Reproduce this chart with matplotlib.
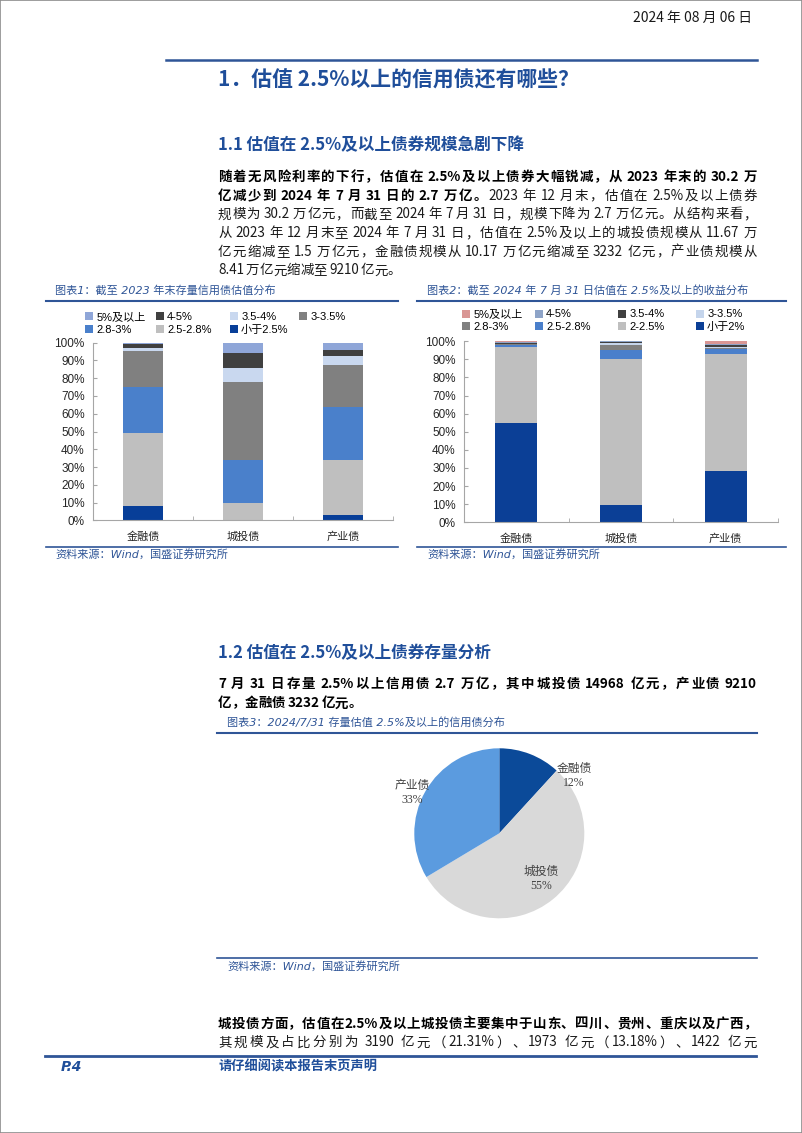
import matplotlib
matplotlib.use('Agg')
import numpy as np
import matplotlib.pyplot as plt
from matplotlib.lines import Line2D
from matplotlib.patches import Rectangle

CJK = 'Noto Sans CJK SC'
plt.rcParams['font.family'] = [CJK, 'DejaVu Sans']

# ---- data ----
categories = ['金融债', '城投债', '产业债']

buckets_2023 = ['小于2.5%', '2.5-2.8%', '2.8-3%', '3-3.5%', '3.5-4%', '4-5%', '5%及以上']
fin_2023 = [8.1, 41.0, 26.0, 20.2, 1.7, 2.1, 0.9]
cit_2023 = [0.0, 9.6, 24.2, 43.9, 8.2, 8.5, 5.6]
ind_2023 = [2.8, 31.0, 30.0, 23.6, 4.9, 3.6, 4.1]

buckets_2024 = ['小于2%', '2-2.5%', '2.5-2.8%', '2.8-3%', '3-3.5%', '3.5-4%', '4-5%', '5%及以上']
fin_2024 = [54.7, 42.4, 1.1, 0.2, 0.3, 0.1, 1.0, 0.2]
cit_2024 = [9.4, 80.7, 5.1, 2.8, 1.1, 0.6, 0.2, 0.1]
ind_2024 = [28.2, 64.6, 3.1, 0.3, 0.9, 0.9, 0.5, 1.5]

pie_labels = ['金融债', '城投债', '产业债']
pie_values = [3232, 14968, 9210]  # 亿元
pie_pct_text = ['12%', '55%', '33%']

colors_2023 = ['#073E98', '#BFBFBF', '#4A80CB', '#808080', '#C9D8EF', '#404040', '#8FA6D8']
colors_2024 = ['#0B3F96', '#BFBFBF', '#4A7FCB', '#808080', '#C5D5EC', '#404040', '#8EA4C8', '#D99694']
pie_colors = ['#0B4A99', '#D9D9D9', '#5B9BDF']

BLUE = '#1F4E9A'
LINE = '#2F5597'
TXT = '#1A1A1A'

W, H = 802, 1133
fig = plt.figure(figsize=(W / 100, H / 100), dpi=100)
renderer = fig.canvas.get_renderer()


def fx(x):
    return x / W


def fy(y):
    return 1 - y / H


def hline(x0, x1, y, lw=1.5, color=LINE):
    fig.add_artist(Line2D([fx(x0), fx(x1)], [fy(y), fy(y)], color=color, lw=lw))


def draw_line(segments, x0, y, size, width=None):
    # segments: (text, bold); CJK chars and ascii runs become tokens, spread to width
    items = []
    for text, bold in segments:
        buf = ''
        for ch in text:
            if ch == ' ':
                if buf:
                    items.append((buf, bold))
                    buf = ''
                items.append((' ', bold))
            elif ord(ch) < 128:
                buf += ch
            else:
                if buf:
                    items.append((buf, bold))
                    buf = ''
                items.append((ch, bold))
        if buf:
            items.append((buf, bold))
    base = y + 0.36 * size * 100 / 72
    arts, widths = [], []
    for tok, bold in items:
        if tok == ' ':
            arts.append(None)
            widths.append(0.15 * size * 100 / 72)
            continue
        t = fig.text(0, fy(base), tok, fontsize=size, va='baseline', ha='left',
                     fontweight='bold' if bold else 'normal',
                     color='black' if bold else TXT)
        arts.append(t)
        widths.append(t.get_window_extent(renderer).width)
    gap = 0.0
    if width is not None and len(items) > 1:
        gap = max((width - sum(widths)) / (len(items) - 1), 0)
    x = x0
    for a, w in zip(arts, widths):
        if a is not None:
            a.set_x(fx(x))
        x += w + gap


# ---- page frame, header ----
fig.add_artist(Rectangle((0, 0), 1, 1, transform=fig.transFigure, fill=False,
                         edgecolor='#8C8C8C', lw=1.2))
fig.text(fx(752), fy(18), '2024 年 08 月 06 日', fontsize=10, ha='right', va='center', color=TXT)
hline(166, 757, 59.5, lw=1.8)

fig.text(fx(218), fy(80), '1．估值 2.5%以上的信用债还有哪些？', fontsize=15, fontweight='bold',
         color=BLUE, va='center')
fig.text(fx(218), fy(145), '1.1 估值在 2.5%及以上债券规模急剧下降', fontsize=12, fontweight='bold',
         color=BLUE, va='center')

para1 = [
    [('随着无风险利率的下行，估值在 2.5%及以上债券大幅锐减，从 2023 年末的 30.2 万', True)],
    [('亿减少到 2024 年 7 月 31 日的 2.7 万亿。', True), ('2023 年 12 月末，估值在 2.5%及以上债券', False)],
    [('规模为 30.2 万亿元，而截至 2024 年 7 月 31 日，规模下降为 2.7 万亿元。从结构来看，', False)],
    [('从 2023 年 12 月末至 2024 年 7 月 31 日，估值在 2.5%及以上的城投债规模从 11.67 万', False)],
    [('亿元缩减至 1.5 万亿元，金融债规模从 10.17 万亿元缩减至 3232 亿元，产业债规模从', False)],
    [('8.41 万亿元缩减至 9210 亿元。', False)],
]
for i, segs in enumerate(para1):
    draw_line(segs, 218, 176 + i * 18.7, 9.7, None if i == len(para1) - 1 else 539)

# ---- chart captions / sources ----
cap_kw = dict(fontsize=8, style='italic', color=LINE, va='center', family=['DejaVu Sans', CJK])
fig.text(fx(55), fy(290), '图表1：截至 2023 年末存量信用债估值分布', **cap_kw)
fig.text(fx(427), fy(290), '图表2：截至 2024 年 7 月 31 日估值在 2.5%及以上的收益分布', **cap_kw)
hline(46, 398, 301)
hline(417, 786, 301)
hline(46, 398, 546.5, lw=1.2)
hline(417, 786, 546.5, lw=1.2)
fig.text(fx(55), fy(554), '资料来源：Wind，国盛证券研究所', **cap_kw)
fig.text(fx(427), fy(554), '资料来源：Wind，国盛证券研究所', **cap_kw)

SANS = ['Liberation Sans', CJK]


def stacked(box, series, buckets, colors, leg_cols, leg_top):
    x0, y0, x1, y1 = box
    ax = fig.add_axes([fx(x0), fy(y1), (x1 - x0) / W, (y1 - y0) / H])
    data = np.array(series).T
    x = np.arange(len(categories))
    bottom = np.zeros(len(categories))
    handles = []
    for vals, lab, c in zip(data, buckets, colors):
        handles.append(ax.bar(x, vals, 0.4, bottom=bottom, color=c, label=lab, zorder=2))
        bottom += vals
    ax.set_xlim(-0.5, 2.5)
    ax.set_ylim(0, 100)
    ticks = list(range(0, 101, 10))
    ax.set_yticks(ticks)
    ax.set_yticklabels([f'{t}%' for t in ticks], fontfamily=SANS, fontsize=8.5, color='#262626')
    ax.set_xticks(x)
    ax.set_xticklabels(categories, fontsize=8, color='#262626')
    ax.set_xticks([-0.5, 0.5, 1.5, 2.5], minor=True)
    for s in ['top', 'right']:
        ax.spines[s].set_visible(False)
    for s in ['left', 'bottom']:
        ax.spines[s].set_color('#A6A6A6')
        ax.spines[s].set_linewidth(0.8)
    ax.tick_params(axis='y', direction='in', length=3, color='#A6A6A6', pad=6)
    ax.tick_params(axis='x', which='major', length=0, pad=8)
    ax.tick_params(axis='x', which='minor', direction='in', length=3, color='#A6A6A6')
    # legend: top bucket first, read row by row over 4 columns (one small legend per column)
    rev = handles[::-1]
    for c, xc in enumerate(leg_cols):
        col = [rev[i] for i in (c, c + 4) if i < len(rev)]
        fig.legend(col, [h.get_label() for h in col], loc='upper left',
                   bbox_to_anchor=(fx(xc - 4.5), fy(leg_top)), frameon=False,
                   prop={'family': SANS, 'size': 8}, handlelength=0.75, handleheight=0.75,
                   handletextpad=0.3, labelspacing=0.25, borderpad=0, borderaxespad=0)
    return ax


stacked((93, 342.7, 393, 520.3), [fin_2023, cit_2023, ind_2023], buckets_2023, colors_2023,
        [89, 160, 234, 303], 312)
stacked((464, 341.3, 778, 522.3), [fin_2024, cit_2024, ind_2024], buckets_2024, colors_2024,
        [466, 539, 622, 700], 309.5)

# ---- section 1.2 ----
fig.text(fx(218), fy(653), '1.2 估值在 2.5%及以上债券存量分析', fontsize=12, fontweight='bold',
         color=BLUE, va='center')
draw_line([('7 月 31 日存量 2.5%以上信用债 2.7 万亿，其中城投债 14968 亿元，产业债 9210', True)],
          218, 683, 9.7, 539)
draw_line([('亿，金融债 3232 亿元。', True)], 218, 702.5, 9.7)

fig.text(fx(227), fy(722), '图表3：2024/7/31 存量估值 2.5%及以上的信用债分布', **cap_kw)
hline(217, 757, 733)
hline(217, 757, 958, lw=1.2)
fig.text(fx(227), fy(966), '资料来源：Wind，国盛证券研究所', **cap_kw)

cx, cy, r = 499.3, 833.3, 85
pax = fig.add_axes([fx(cx - r), fy(cy + r), 2 * r / W, 2 * r / H])
pax.pie(pie_values, colors=pie_colors, startangle=90, counterclock=False,
        wedgeprops=dict(linewidth=0))
pax.set_xlim(-1, 1)
pax.set_ylim(-1, 1)
label_pos = [(0.88, 0.67), (0.49, -0.54), (-1.02, 0.47)]
for name, pct, (lx, ly) in zip(pie_labels, pie_pct_text, label_pos):
    pax.text(lx, ly, f'{name}\n{pct}', ha='center', va='center', fontsize=8.5,
             family=['Liberation Serif', CJK], color='#404040', linespacing=1.25)

# ---- bottom paragraph, footer ----
draw_line([('城投债方面，估值在2.5%及以上城投债主要集中于山东、四川、贵州、重庆以及广西，', True)],
          218, 1023, 9.7, 539)
draw_line([('其规模及占比分别为 3190 亿元（21.31%）、1973 亿元（13.18%）、1422 亿元', False)],
          218, 1041.5, 9.7, 539)
hline(45, 756, 1056, lw=2)
fig.text(fx(61), fy(1067), 'P.4', fontsize=10, fontweight='bold', style='italic', color=BLUE,
         va='center', family=['DejaVu Sans', CJK])
fig.text(fx(219), fy(1067), '请仔细阅读本报告末页声明', fontsize=9.5, fontweight='bold', style='italic',
         color=BLUE, va='center')

fig.savefig('out.png', dpi=100)
